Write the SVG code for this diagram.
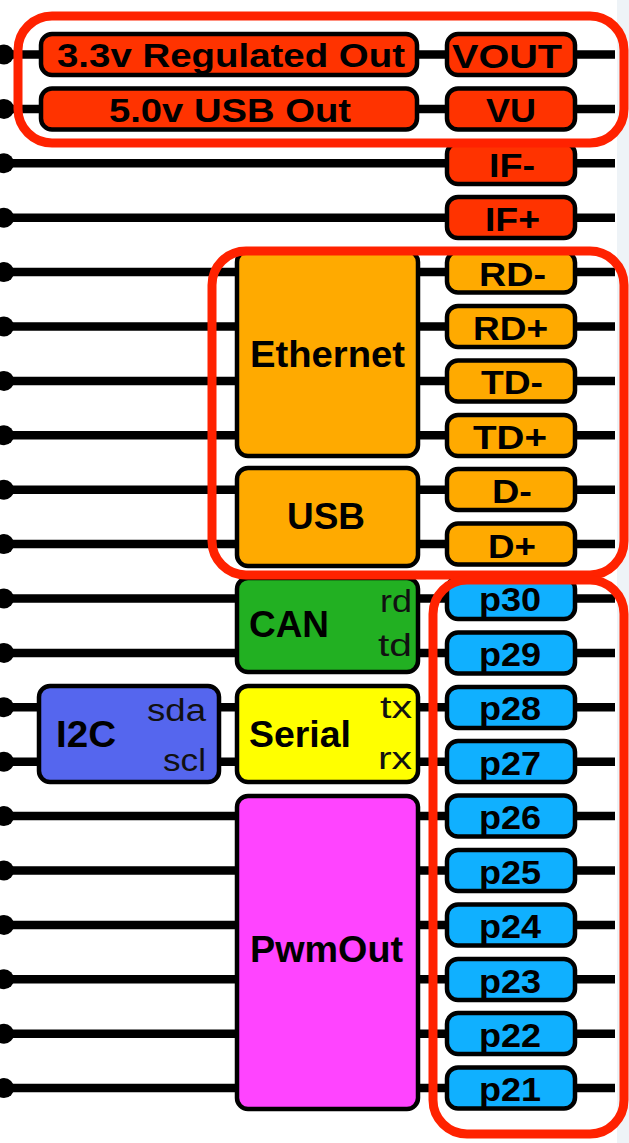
<svg xmlns="http://www.w3.org/2000/svg" width="629" height="1143" viewBox="0 0 629 1143">
<style>
.bx{stroke:#000;stroke-width:4.5}
.red{fill:#ff3300}.org{fill:#ffaa00}.blu{fill:#10b0ff}.grn{fill:#22b022}.yel{fill:#ffff00}.i2c{fill:#5566ee}.mag{fill:#ff44ff}
.t{font-family:"Liberation Sans",Arial,sans-serif;font-weight:bold;fill:#000}
.s{font-family:"Liberation Sans",Arial,sans-serif;font-weight:normal;font-size:31px;fill:#111}
.p{font-size:34px}
.m{font-size:36px}
.w{stroke:#000;stroke-width:8.5;fill:none}
.hl{fill:none;stroke:#ff2200;stroke-width:9}
</style>
<rect x="0" y="0" width="629" height="1143" fill="#ffffff"/>
<rect x="617" y="0" width="12" height="1143" fill="#eef3f7"/>
<g id="connectors">
<path class="w" d="M4 54.5H615M4 108.9H615M4 163.3H615M4 217.7H615M4 272.1H615M4 326.5H615M4 380.9H615M4 435.3H615M4 489.7H615M4 544.1H615M4 598.5H615M4 652.9H615M4 707.3H615M4 761.7H615M4 816.1H615M4 870.5H615M4 924.9H615M4 979.3H615M4 1033.7H615M4 1088.1H615"/>
<g fill="#000">
<circle cx="4" cy="54.5" r="10"/><circle cx="4" cy="108.9" r="10"/><circle cx="4" cy="163.3" r="10"/><circle cx="4" cy="217.7" r="10"/><circle cx="4" cy="272.1" r="10"/><circle cx="4" cy="326.5" r="10"/><circle cx="4" cy="380.9" r="10"/><circle cx="4" cy="435.3" r="10"/><circle cx="4" cy="489.7" r="10"/><circle cx="4" cy="544.1" r="10"/><circle cx="4" cy="598.5" r="10"/><circle cx="4" cy="652.9" r="10"/><circle cx="4" cy="707.3" r="10"/><circle cx="4" cy="761.7" r="10"/><circle cx="4" cy="816.1" r="10"/><circle cx="4" cy="870.5" r="10"/><circle cx="4" cy="924.9" r="10"/><circle cx="4" cy="979.3" r="10"/><circle cx="4" cy="1033.7" r="10"/><circle cx="4" cy="1088.1" r="10"/>
</g>
</g>
<g id="reg33"><rect class="bx red" x="41" y="34" width="376" height="41" rx="11"/><text class="t p" x="57" y="67" textLength="348" lengthAdjust="spacingAndGlyphs">3.3v Regulated Out</text></g>
<g id="usb50"><rect class="bx red" x="41" y="88.5" width="376" height="41" rx="11"/><text class="t p" x="109" y="121.5" textLength="242" lengthAdjust="spacingAndGlyphs">5.0v USB Out</text></g>
<g id="ethernet"><rect class="bx org" x="237" y="251" width="181" height="205" rx="11"/><text class="t m" x="250" y="367" textLength="155" lengthAdjust="spacingAndGlyphs">Ethernet</text></g>
<g id="usb"><rect class="bx org" x="237" y="468" width="181" height="98" rx="11"/><text class="t m" x="287" y="529" textLength="78" lengthAdjust="spacingAndGlyphs">USB</text></g>
<g id="can"><rect class="bx grn" x="237" y="578" width="181" height="94" rx="11"/><text class="t m" x="249" y="637" textLength="80" lengthAdjust="spacingAndGlyphs">CAN</text><text class="s" x="380" y="612" textLength="32" lengthAdjust="spacingAndGlyphs">rd</text><text class="s" x="378" y="656" textLength="34" lengthAdjust="spacingAndGlyphs">td</text></g>
<g id="serial"><rect class="bx yel" x="237" y="686" width="181" height="96" rx="11"/><text class="t m" x="249" y="747" textLength="102" lengthAdjust="spacingAndGlyphs">Serial</text><text class="s" x="380" y="718" textLength="32" lengthAdjust="spacingAndGlyphs">tx</text><text class="s" x="378" y="769" textLength="34" lengthAdjust="spacingAndGlyphs">rx</text></g>
<g id="i2c"><rect class="bx i2c" x="39" y="686" width="180" height="96" rx="11"/><text class="t m" x="56" y="747" textLength="60" lengthAdjust="spacingAndGlyphs">I2C</text><text class="s" x="147" y="721" textLength="59" lengthAdjust="spacingAndGlyphs" fill="#1a1f50">sda</text><text class="s" x="163" y="771" textLength="43" lengthAdjust="spacingAndGlyphs">scl</text></g>
<g id="pwmout"><rect class="bx mag" x="237" y="796" width="181" height="313" rx="11"/><text class="t m" x="250" y="962" textLength="153" lengthAdjust="spacingAndGlyphs">PwmOut</text></g>
<g id="pin-vout"><rect class="bx red" x="447" y="34" width="128" height="41" rx="11"/><text class="t p" x="452" y="67.5" textLength="110" lengthAdjust="spacingAndGlyphs">VOUT</text></g>
<g id="pin-vu"><rect class="bx red" x="447" y="88.5" width="128" height="41" rx="11"/><text class="t p" x="486" y="122" textLength="50" lengthAdjust="spacingAndGlyphs">VU</text></g>
<g id="pin-ifm"><rect class="bx red" x="447" y="143" width="128" height="41" rx="11"/><text class="t p" x="489" y="176.5" textLength="46" lengthAdjust="spacingAndGlyphs">IF-</text></g>
<g id="pin-ifp"><rect class="bx red" x="447" y="197" width="128" height="41" rx="11"/><text class="t p" x="485" y="231" textLength="55" lengthAdjust="spacingAndGlyphs">IF+</text></g>
<g id="pin-rdm"><rect class="bx org" x="447" y="251.5" width="128" height="41" rx="11"/><text class="t p" x="479" y="285.5" textLength="67" lengthAdjust="spacingAndGlyphs">RD-</text></g>
<g id="pin-rdp"><rect class="bx org" x="447" y="306" width="128" height="41" rx="11"/><text class="t p" x="473" y="340" textLength="75" lengthAdjust="spacingAndGlyphs">RD+</text></g>
<g id="pin-tdm"><rect class="bx org" x="447" y="360.5" width="128" height="41" rx="11"/><text class="t p" x="481" y="394" textLength="62" lengthAdjust="spacingAndGlyphs">TD-</text></g>
<g id="pin-tdp"><rect class="bx org" x="447" y="415" width="128" height="41" rx="11"/><text class="t p" x="473" y="448.5" textLength="74" lengthAdjust="spacingAndGlyphs">TD+</text></g>
<g id="pin-dm"><rect class="bx org" x="447" y="469" width="128" height="41" rx="11"/><text class="t p" x="492" y="503" textLength="40" lengthAdjust="spacingAndGlyphs">D-</text></g>
<g id="pin-dp"><rect class="bx org" x="447" y="523.5" width="128" height="41" rx="11"/><text class="t p" x="488" y="557.5" textLength="48" lengthAdjust="spacingAndGlyphs">D+</text></g>
<g id="pin-p30"><rect class="bx blu" x="447" y="578" width="128" height="41" rx="11"/><text class="t p" x="479" y="611" textLength="62" lengthAdjust="spacingAndGlyphs">p30</text></g>
<g id="pin-p29"><rect class="bx blu" x="447" y="632.5" width="128" height="41" rx="11"/><text class="t p" x="479" y="665.5" textLength="62" lengthAdjust="spacingAndGlyphs">p29</text></g>
<g id="pin-p28"><rect class="bx blu" x="447" y="687" width="128" height="41" rx="11"/><text class="t p" x="479" y="720" textLength="62" lengthAdjust="spacingAndGlyphs">p28</text></g>
<g id="pin-p27"><rect class="bx blu" x="447" y="741" width="128" height="41" rx="11"/><text class="t p" x="479" y="774.5" textLength="62" lengthAdjust="spacingAndGlyphs">p27</text></g>
<g id="pin-p26"><rect class="bx blu" x="447" y="795.5" width="128" height="41" rx="11"/><text class="t p" x="479" y="829" textLength="62" lengthAdjust="spacingAndGlyphs">p26</text></g>
<g id="pin-p25"><rect class="bx blu" x="447" y="850" width="128" height="41" rx="11"/><text class="t p" x="479" y="883.5" textLength="62" lengthAdjust="spacingAndGlyphs">p25</text></g>
<g id="pin-p24"><rect class="bx blu" x="447" y="904.5" width="128" height="41" rx="11"/><text class="t p" x="479" y="938" textLength="62" lengthAdjust="spacingAndGlyphs">p24</text></g>
<g id="pin-p23"><rect class="bx blu" x="447" y="959" width="128" height="41" rx="11"/><text class="t p" x="479" y="992.5" textLength="62" lengthAdjust="spacingAndGlyphs">p23</text></g>
<g id="pin-p22"><rect class="bx blu" x="447" y="1013" width="128" height="41" rx="11"/><text class="t p" x="479" y="1047" textLength="62" lengthAdjust="spacingAndGlyphs">p22</text></g>
<g id="pin-p21"><rect class="bx blu" x="447" y="1067.5" width="128" height="41" rx="11"/><text class="t p" x="479" y="1101" textLength="62" lengthAdjust="spacingAndGlyphs">p21</text></g>
<g id="highlights">
<rect class="hl" x="18" y="16" width="606" height="127" rx="34"/>
<rect class="hl" x="212" y="251" width="412" height="324" rx="34"/>
<rect class="hl" x="433" y="580" width="191" height="554" rx="34"/>
</g>
</svg>
